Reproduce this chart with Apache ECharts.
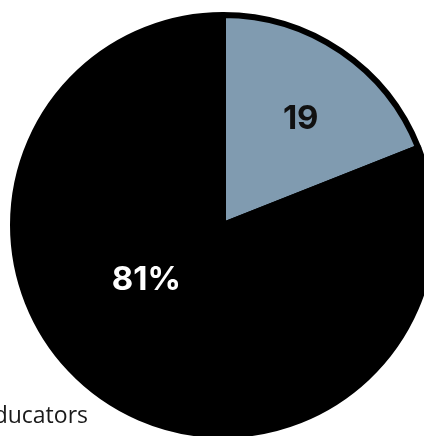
<!DOCTYPE html>
<html>
<head>
<meta charset="utf-8">
<script src="https://cdn.jsdelivr.net/npm/echarts@6/dist/echarts.min.js"></script>
<style>
html,body{margin:0;padding:0;background:#fff;}
#c{width:424px;height:436px;}
</style>
</head>
<body>
<div id="c"></div>
<script>
const categories = ['Other', 'Majority'];
const values = [19, 81];
const labelTexts = ['19', '81%'];
const annotationText = 'Educators';

const colors = ['#809bb0', '#000000'];
const labelColors = ['#111111', '#ffffff'];
const labelShift = [[17, -17], [-16, -34]];

const chart = echarts.init(document.getElementById('c'), null, {renderer: 'canvas'});
chart.setOption({
  animation: false,
  backgroundColor: '#ffffff',
  series: [{
    type: 'pie',
    center: [223, 225],
    radius: [0, 210],
    startAngle: 90,
    clockwise: true,
    silent: true,
    label: {
      show: true,
      position: 'inner',
      fontFamily: 'Inter',
      fontWeight: 700,
      fontSize: 33
    },
    labelLine: {show: false},
    labelLayout: function (p) {
      const s = labelShift[p.dataIndex];
      return {dx: s[0], dy: s[1]};
    },
    itemStyle: {borderColor: '#000', borderWidth: 6, borderJoin: 'round'},
    data: categories.map((c, i) => ({
      name: c,
      value: values[i],
      itemStyle: {color: colors[i]},
      label: {formatter: labelTexts[i], color: labelColors[i]}
    }))
  }],
  graphic: [{
    type: 'text',
    x: 88,
    y: 405,
    style: {
      text: annotationText,
      fontFamily: 'Open Sans',
      fontWeight: 500,
      fontSize: 23,
      fill: '#1a1a1a',
      align: 'right',
      verticalAlign: 'top'
    }
  }]
});
</script>
</body>
</html>
